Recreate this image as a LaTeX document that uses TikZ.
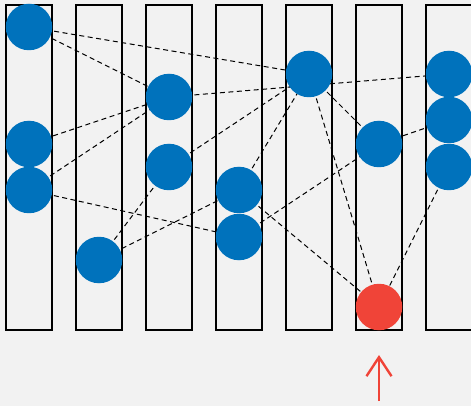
\documentclass[tikz,border=0pt]{standalone}
\usetikzlibrary{arrows.meta,backgrounds}
\definecolor{bg}{HTML}{F2F2F2}
\definecolor{dotblue}{HTML}{0072BC}
\definecolor{dotred}{HTML}{F04438}
\tikzset{
  colbox/.style={draw=black, line width=2pt},
  dot/.style={circle, fill=dotblue, minimum size=46.5pt, inner sep=0pt},
  hotdot/.style={circle, fill=dotred, minimum size=46.5pt, inner sep=0pt},
  link/.style={draw=black, line width=1pt, dash pattern=on 5pt off 3.5pt},
  pointer/.style={draw=dotred, line width=2.4pt, -{Straight Barb[length=19pt,width=25pt,line width=2.4pt]}}
}
\begin{document}
\begin{tikzpicture}[x=1pt,y=-1pt]
\useasboundingbox (0,0) rectangle (471,406);
% nodes
\node[dot] (a1) at (29,27) {};
\node[dot] (a2) at (29,144) {};
\node[dot] (a3) at (29,190) {};
\node[dot] (b1) at (99,260) {};
\node[dot] (c1) at (169,97) {};
\node[dot] (c2) at (169,167) {};
\node[dot] (d1) at (239,190) {};
\node[dot] (d2) at (239,237) {};
\node[dot] (e1) at (309,74) {};
\node[dot] (f1) at (379,144) {};
\node[hotdot] (f2) at (379,307) {};
\node[dot] (g1) at (449,74) {};
\node[dot] (g2) at (449,120) {};
\node[dot] (g3) at (449,167) {};
\begin{scope}[on background layer]
  \fill[bg] (0,0) rectangle (471,406);
  \foreach \i in {0,...,6} {
    \draw[colbox] (6+70*\i,5) rectangle (52+70*\i,330);
  }
  \draw[link] (a1.center) -- (e1.center);
  \draw[link] (a1.center) -- (c1.center);
  \draw[link] (a2.center) -- (c1.center);
  \draw[link] (a3.center) -- (c1.center);
  \draw[link] (a3.center) -- (d2.center);
  \draw[link] (b1.center) -- (c2.center);
  \draw[link] (b1.center) -- (d1.center);
  \draw[link] (c1.center) -- (g1.center);
  \draw[link] (c2.center) -- (e1.center);
  \draw[link] (d1.center) -- (e1.center);
  \draw[link] (d1.center) -- (f2.center);
  \draw[link] (d2.center) -- (f1.center);
  \draw[link] (e1.center) -- (f1.center);
  \draw[link] (e1.center) -- (f2.center);
  \draw[link] (f1.center) -- (g2.center);
  \draw[link] (g3.center) -- (f2.center);
\end{scope}
\coordinate (tail) at (379,401);
\coordinate (head) at (379,355);
\draw[pointer] (tail) -- (head);
\end{tikzpicture}
\end{document}
